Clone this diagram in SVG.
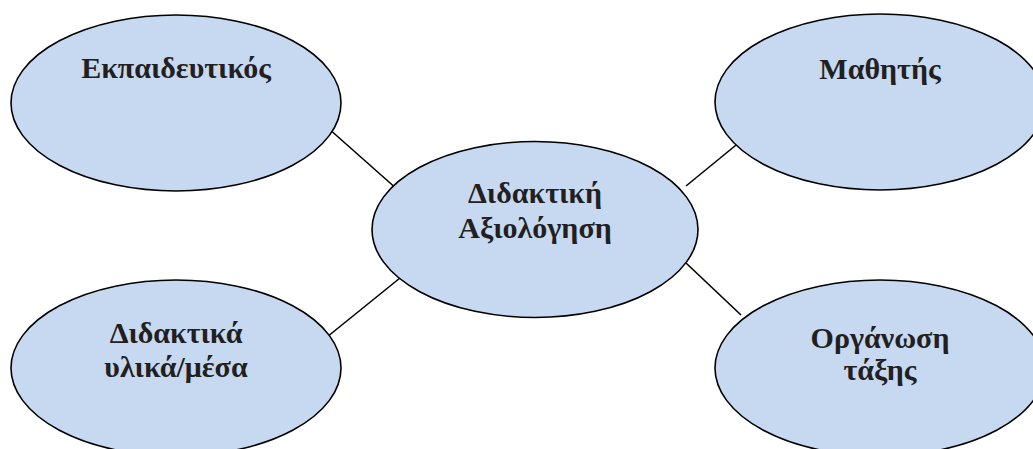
<svg xmlns="http://www.w3.org/2000/svg" width="1033" height="449" viewBox="0 0 1033 449">
<style>
.node ellipse{fill:#c6d9f1;stroke:#000;stroke-width:1.6}
.node text{font-family:"Liberation Serif","Times New Roman",serif;font-weight:bold;font-size:30px;fill:#231f20;text-anchor:middle}
.conn line{stroke:#000;stroke-width:1.6}
</style>
<rect width="1033" height="449" fill="#fff"/>
<g id="connectors" class="conn">
<line x1="328" y1="128" x2="398" y2="190"/>
<line x1="686" y1="186" x2="741" y2="141"/>
<line x1="327" y1="337" x2="400" y2="278"/>
<line x1="686" y1="263" x2="741" y2="315"/>
</g>
<g id="ekpaideutikos" class="node">
<ellipse cx="176" cy="103" rx="165" ry="88"/>
<text x="176" y="78">Εκπαιδευτικός</text>
</g>
<g id="mathitis" class="node">
<ellipse cx="880" cy="102" rx="165" ry="88"/>
<text x="880" y="79">Μαθητής</text>
</g>
<g id="didaktiki-axiologisi" class="node">
<ellipse cx="535" cy="229.5" rx="163" ry="88"/>
<text x="535" y="203">Διδακτική</text>
<text x="535" y="238">Αξιολόγηση</text>
</g>
<g id="didaktika-ylika" class="node">
<ellipse cx="176" cy="368" rx="165" ry="88"/>
<text x="176" y="343">Διδακτικά</text>
<text x="176" y="377">υλικά/μέσα</text>
</g>
<g id="organosi-taxis" class="node">
<ellipse cx="880" cy="368" rx="165" ry="88"/>
<text x="880" y="348">Οργάνωση</text>
<text x="880" y="380">τάξης</text>
</g>
</svg>
